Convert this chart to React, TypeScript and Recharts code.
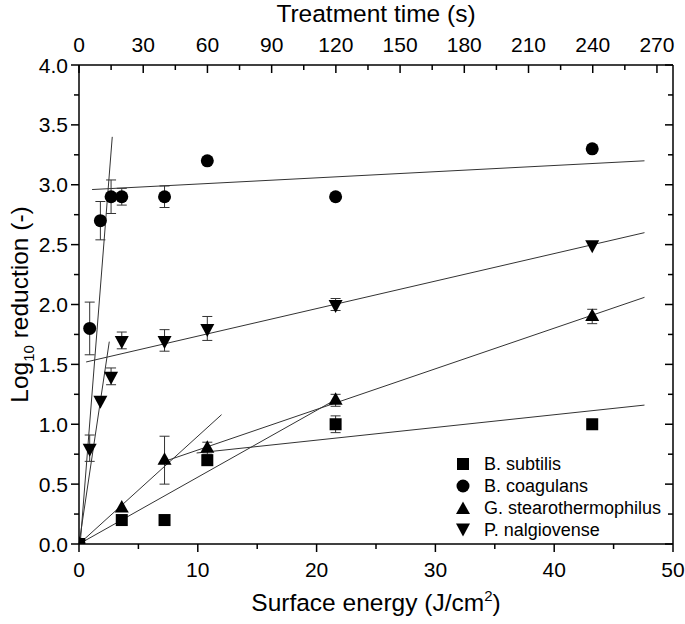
import {
  ScatterChart,
  Scatter,
  XAxis,
  YAxis,
  ErrorBar,
  ReferenceLine,
  Legend,
  Label,
} from 'recharts';

const FONT = '"Liberation Sans", Arial, sans-serif';

// x = surface energy (J/cm2), y = log10 reduction, err = error bar half length
const subtilis = [
  { x: 0, y: 0 },
  { x: 3.6, y: 0.2 },
  { x: 7.2, y: 0.2 },
  { x: 10.8, y: 0.7, err: 0.04 },
  { x: 21.6, y: 1.0, err: 0.07 },
  { x: 43.2, y: 1.0 },
];

const coagulans = [
  { x: 0, y: 0 },
  { x: 0.9, y: 1.8, err: 0.22 },
  { x: 1.8, y: 2.7, err: 0.16 },
  { x: 2.7, y: 2.9, err: 0.14 },
  { x: 3.6, y: 2.9, err: 0.07 },
  { x: 7.2, y: 2.9, err: 0.09 },
  { x: 10.8, y: 3.2 },
  { x: 21.6, y: 2.9 },
  { x: 43.2, y: 3.3 },
];

const stearothermophilus = [
  { x: 0, y: 0 },
  { x: 3.6, y: 0.3 },
  { x: 7.2, y: 0.7, err: 0.2 },
  { x: 10.8, y: 0.8, err: 0.05 },
  { x: 21.6, y: 1.2, err: 0.05 },
  { x: 43.2, y: 1.9, err: 0.06 },
];

const nalgiovense = [
  { x: 0, y: 0 },
  { x: 0.9, y: 0.8, err: 0.11 },
  { x: 1.8, y: 1.2 },
  { x: 2.7, y: 1.4, err: 0.07 },
  { x: 3.6, y: 1.7, err: 0.07 },
  { x: 7.2, y: 1.7, err: 0.09 },
  { x: 10.8, y: 1.8, err: 0.1 },
  { x: 21.6, y: 2.0, err: 0.05 },
  { x: 43.2, y: 2.5 },
];

// treatment times (s) of the samples, for the top axis
const treatmentTimes = [5, 10, 15, 20, 40, 60, 120, 240];

// fitted lines, two end points each
const coagFitFast = [{ x: 0.1, y: 0 }, { x: 2.8, y: 3.4 }];
const coagFitSlow = [{ x: 1.1, y: 2.96 }, { x: 47.6, y: 3.2 }];
const nalgFitFast = [{ x: 0, y: 0 }, { x: 2.55, y: 1.69 }];
const nalgFitSlow = [{ x: 0.6, y: 1.52 }, { x: 47.6, y: 2.6 }];
const stearoFitFast = [{ x: 0, y: 0 }, { x: 12, y: 1.08 }];
const stearoFitSlow = [{ x: 7.5, y: 0.7 }, { x: 47.6, y: 2.06 }];
const subtilisFitFast = [{ x: 0, y: 0 }, { x: 21.5, y: 1.2 }];
const subtilisFitSlow = [{ x: 9.9, y: 0.76 }, { x: 47.6, y: 1.16 }];

const fits = [
  coagFitFast, coagFitSlow, nalgFitFast, nalgFitSlow,
  stearoFitFast, stearoFitSlow, subtilisFitFast, subtilisFitSlow,
];

const energyTicks = [0, 5, 10, 15, 20, 25, 30, 35, 40, 45, 50];
const timeTicks = [0, 15, 30, 45, 60, 75, 90, 105, 120, 135, 150, 165, 180, 195, 210, 225, 240, 255, 270];
const logTicks = [0, 0.25, 0.5, 0.75, 1, 1.25, 1.5, 1.75, 2, 2.25, 2.5, 2.75, 3, 3.25, 3.5, 3.75, 4];

const seriesNames = ['B. subtilis', 'B. coagulans', 'G. stearothermophilus', 'P. nalgiovense'];
const seriesKinds = ['square', 'circle', 'up', 'down'];

function Marker({ kind, cx, cy }: { kind: string; cx: number; cy: number }) {
  if (cx == null || cy == null) return null;
  if (kind === 'square') {
    return <rect x={cx - 6} y={cy - 6} width={12} height={12} fill="#000" />;
  }
  if (kind === 'circle') {
    return <circle cx={cx} cy={cy} r={6.5} fill="#000" />;
  }
  if (kind === 'up') {
    return <polygon points={`${cx},${cy - 8} ${cx - 7},${cy + 4.5} ${cx + 7},${cy + 4.5}`} fill="#000" />;
  }
  return <polygon points={`${cx},${cy + 8.5} ${cx - 7},${cy - 4.5} ${cx + 7},${cy - 4.5}`} fill="#000" />;
}

const BottomTick = (props: any) => {
  const { x, y, payload } = props;
  const major = payload.value % 10 === 0;
  return (
    <g>
      <line x1={x} x2={x} y1={y} y2={y + (major ? 8 : 5)} stroke="#000" strokeWidth={1.5} />
      {major && (
        <text x={x} y={y + 33} textAnchor="middle" fontSize={21} fontFamily={FONT} fill="#000">
          {payload.value}
        </text>
      )}
    </g>
  );
};

const TopTick = (props: any) => {
  const { x, y, payload } = props;
  const major = payload.value % 30 === 0;
  return (
    <g>
      <line x1={x} x2={x} y1={y} y2={y + (major ? 8 : 5)} stroke="#000" strokeWidth={1.5} />
      {major && (
        <text x={x} y={y - 13} textAnchor="middle" fontSize={21} fontFamily={FONT} fill="#000">
          {payload.value}
        </text>
      )}
    </g>
  );
};

const LeftTick = (props: any) => {
  const { x, y, payload } = props;
  const major = Math.abs((payload.value * 2) % 1) < 1e-9;
  return (
    <g>
      <line x1={x - (major ? 8 : 5)} x2={x} y1={y} y2={y} stroke="#000" strokeWidth={1.5} />
      {major && (
        <text x={x - 11} y={y + 7.5} textAnchor="end" fontSize={21} fontFamily={FONT} fill="#000">
          {payload.value.toFixed(1)}
        </text>
      )}
    </g>
  );
};

const RightTick = (props: any) => {
  const { x, y, payload } = props;
  const major = Math.abs((payload.value * 2) % 1) < 1e-9;
  return <line x1={x - (major ? 8 : 5)} x2={x} y1={y} y2={y} stroke="#000" strokeWidth={1.5} />;
};

const BottomTitle = (props: any) => {
  const { x, y, width } = props.viewBox;
  return (
    <text x={x + width / 2} y={y + 67} textAnchor="middle" fontSize={24.5} fontFamily={FONT} fill="#000">
      Surface energy (J/cm
      <tspan dy={-10} fontSize={15}>2</tspan>
      <tspan dy={10}>)</tspan>
    </text>
  );
};

const TopTitle = (props: any) => {
  const { x, y, width } = props.viewBox;
  return (
    <text x={x + width / 2} y={y + 14} textAnchor="middle" fontSize={24.5} fontFamily={FONT} fill="#000">
      Treatment time (s)
    </text>
  );
};

const LeftTitle = (props: any) => {
  const { x, y, height } = props.viewBox;
  const cx = x + 20;
  const cy = y + height / 2;
  return (
    <text
      x={cx}
      y={cy}
      transform={`rotate(-90 ${cx} ${cy})`}
      textAnchor="middle"
      fontSize={24.5}
      fontFamily={FONT}
      fill="#000"
    >
      Log
      <tspan dy={6} fontSize={15}>10</tspan>
      <tspan dy={-6}> reduction (-)</tspan>
    </text>
  );
};

const LegendBox = () => (
  <div style={{ fontFamily: FONT, fontSize: 18, color: '#000' }}>
    {seriesNames.map((name, i) => (
      <div key={name} style={{ display: 'flex', alignItems: 'center', height: 22 }}>
        <svg width={16} height={20} style={{ marginRight: 13 }}>
          <Marker kind={seriesKinds[i]} cx={8} cy={i === 2 ? 11.5 : i === 3 ? 8 : 10} />
        </svg>
        <span>{name}</span>
      </div>
    ))}
  </div>
);

export default function App() {
  const series = [subtilis, coagulans, stearothermophilus, nalgiovense];
  const timeData = treatmentTimes.map((t) => ({ t, v: 0 }));
  return (
    <div style={{ position: 'fixed', top: 0, left: 0, width: 685, height: 624, background: '#fff' }}>
      <ScatterChart width={685} height={624} margin={{ top: 8, right: 0, bottom: 0, left: 8 }}>
        <XAxis
          xAxisId="bottom"
          type="number"
          dataKey="x"
          domain={[0, 50]}
          ticks={energyTicks}
          interval={0}
          allowDataOverflow
          height={80}
          tickSize={0}
          tickMargin={0}
          tickLine={false}
          tick={<BottomTick />}
          axisLine={{ stroke: '#000', strokeWidth: 1.5 }}
        >
          <Label content={<BottomTitle />} />
        </XAxis>
        <XAxis
          xAxisId="top"
          orientation="top"
          type="number"
          dataKey="t"
          domain={[0, 277.5]}
          ticks={timeTicks}
          interval={0}
          allowDataOverflow
          height={57}
          tickSize={0}
          tickMargin={0}
          tickLine={false}
          tick={<TopTick />}
          axisLine={{ stroke: '#000', strokeWidth: 1.5 }}
        >
          <Label content={<TopTitle />} />
        </XAxis>
        <YAxis
          yAxisId="left"
          type="number"
          dataKey="y"
          domain={[0, 4]}
          ticks={logTicks}
          interval={0}
          allowDataOverflow
          width={71}
          tickSize={0}
          tickMargin={0}
          tickLine={false}
          tick={<LeftTick />}
          axisLine={{ stroke: '#000', strokeWidth: 1.5 }}
        >
          <Label content={<LeftTitle />} />
        </YAxis>
        <YAxis
          yAxisId="right"
          orientation="right"
          type="number"
          dataKey="v"
          domain={[0, 4]}
          ticks={logTicks}
          interval={0}
          allowDataOverflow
          width={12}
          tickSize={0}
          tickMargin={0}
          tickLine={false}
          tick={<RightTick />}
          axisLine={{ stroke: '#000', strokeWidth: 1.5 }}
        />
        {fits.map((seg, i) => (
          <ReferenceLine
            key={`fit-${i}`}
            xAxisId="bottom"
            yAxisId="left"
            segment={seg}
            stroke="#333"
            strokeWidth={1}
            ifOverflow="visible"
          />
        ))}
        <Scatter
          data={timeData}
          xAxisId="top"
          yAxisId="right"
          isAnimationActive={false}
          legendType="none"
          shape={() => <g />}
        />
        {series.map((data, i) => (
          <Scatter
            key={seriesNames[i]}
            name={seriesNames[i]}
            data={data}
            xAxisId="bottom"
            yAxisId="left"
            isAnimationActive={false}
            shape={(p: any) => <Marker kind={seriesKinds[i]} cx={p.cx} cy={p.cy} />}
          >
            <ErrorBar dataKey="err" direction="y" width={5} stroke="#333" strokeWidth={1} />
          </Scatter>
        ))}
        <Legend
          layout="horizontal"
          verticalAlign="middle"
          align="center"
          content={<LegendBox />}
          wrapperStyle={{ left: 455, top: 453, width: 225, height: 90 }}
        />
      </ScatterChart>
    </div>
  );
}
